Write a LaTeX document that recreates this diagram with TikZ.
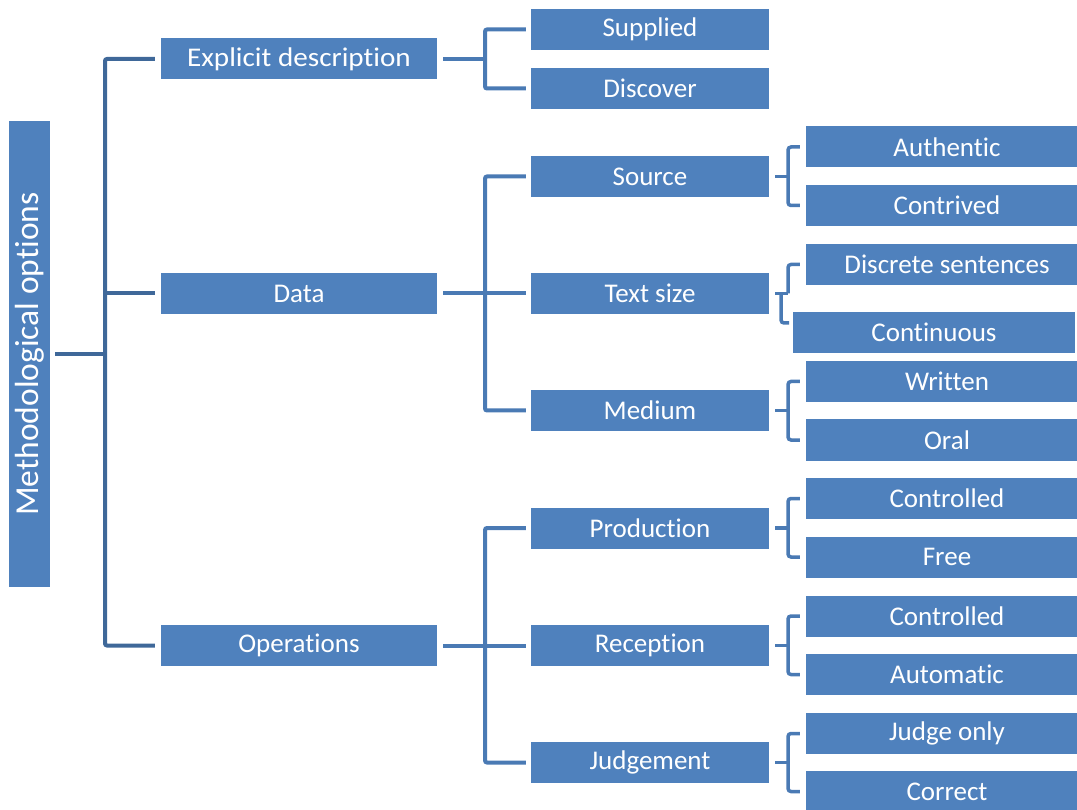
\documentclass[tikz,border=0pt]{standalone}
\usepackage{fontspec}
\setmainfont[Ligatures=NoCommon]{Carlito}
\definecolor{boxblue}{HTML}{4F81BD}
\definecolor{rootline}{HTML}{3F6899}
\definecolor{subline}{HTML}{4A7AB4}
\begin{document}
\begin{tikzpicture}[x=1pt,y=-1pt,
  box/.style={draw=none,fill=boxblue,text=white,inner sep=0pt,font=\fontsize{27}{29}\selectfont},
  lone/.style={box,minimum width=276,minimum height=41},
  ltwo/.style={box,minimum width=238,minimum height=41},
  lthree/.style={box,minimum width=282,minimum height=41},
  rl/.style={draw=rootline,line width=4pt,rounded corners=2pt},
  sl/.style={draw=subline,line width=4pt,rounded corners=2pt},
  bl/.style={draw=subline,line width=3.5pt,rounded corners=3pt}]
\useasboundingbox (0,0) rectangle (1077,810);
\clip (0,0) rectangle (1077,810);
% root
\node[box,minimum width=466,minimum height=41,rotate=90,font=\fontsize{33.5}{35}\selectfont] (root) at (29.5,354) {Methodological options};
% level 1
\node[lone] (expl) at (299,59) {\scalebox{1.08}[1]{Explicit description}};
\node[lone] (data) at (299,293.5) {Data};
\node[lone] (ops) at (299,645.5) {Operations};
% level 2
\node[ltwo] (sup) at (650,29.5) {Supplied};
\node[ltwo] (dis) at (650,88.5) {Discover};
\node[ltwo] (src) at (650,176.5) {Source};
\node[ltwo] (ts) at (650,293.5) {Text size};
\node[ltwo] (med) at (650,410.5) {Medium};
\node[ltwo] (prod) at (650,528) {Production};
\node[ltwo] (rec) at (650,645.5) {Reception};
\node[ltwo] (jud) at (650,762.5) {Judgement};
% level 3
\node[lthree] (auth) at (947,147) {Authentic};
\node[lthree] (contr) at (947,205.5) {Contrived};
\node[lthree] (disc) at (947,264.5) {Discrete sentences};
\node[lthree] (cont) at (934,332.5) {Continuous};
\node[lthree] (writ) at (947,381.5) {Written};
\node[lthree] (oral) at (947,440) {Oral};
\node[lthree] (pctl) at (947,498.5) {Controlled};
\node[lthree] (free) at (947,557) {Free};
\node[lthree] (rctl) at (947,616) {Controlled};
\node[lthree] (auto) at (947,674.5) {Automatic};
\node[lthree] (jo) at (947,733.5) {Judge only};
\node[lthree] (corr) at (947,791.5) {Correct};
% root connectors
\coordinate (rj) at (105,354);
\draw[rl] ([xshift=5pt]root.south) -- (rj);
\draw[rl] ([xshift=-6pt]expl.west) -| (rj) |- ([xshift=-6pt]ops.west);
\draw[rl] ([xshift=-6pt]data.west) -- (rj |- data.west);
% level 1 -> 2
\coordinate (ej) at (485,59);
\draw[sl] ([xshift=6pt]expl.east) -- (ej);
\draw[sl] ([xshift=-5pt]sup.west) -| (ej) |- ([xshift=-5pt]dis.west);
\coordinate (dj) at (485,293.5);
\draw[sl] ([xshift=6pt]data.east) -- ([xshift=-5pt]ts.west);
\draw[sl] ([xshift=-5pt]src.west) -| (dj) |- ([xshift=-5pt]med.west);
\coordinate (oj) at (485,645.5);
\draw[sl] ([xshift=6pt]ops.east) -- ([xshift=-5pt]rec.west);
\draw[sl] ([xshift=-5pt]prod.west) -| (oj) |- ([xshift=-5pt]jud.west);
% level 2 -> 3 brackets
\foreach \p/\a/\b in {src/auth/contr, med/writ/oral, prod/pctl/free, rec/rctl/auto, jud/jo/corr}{
  \coordinate (j\p) at (788,0 |- \p.east);
  \draw[bl] ([xshift=6pt]\p.east) -- (j\p);
  \draw[bl] ([xshift=-6pt]\a.west) -| (j\p) |- ([xshift=-6pt]\b.west);
}
% text size special bracket
\coordinate (jts) at (788,293.5);
\coordinate (jtl) at (781,293.5);
\coordinate (ctl) at (789,323);
\draw[bl] ([xshift=6pt]ts.east) -- (jts);
\draw[bl] ([xshift=-6pt]disc.west) -| (jts);
\draw[bl] (jtl) |- (ctl);
\end{tikzpicture}
\end{document}
